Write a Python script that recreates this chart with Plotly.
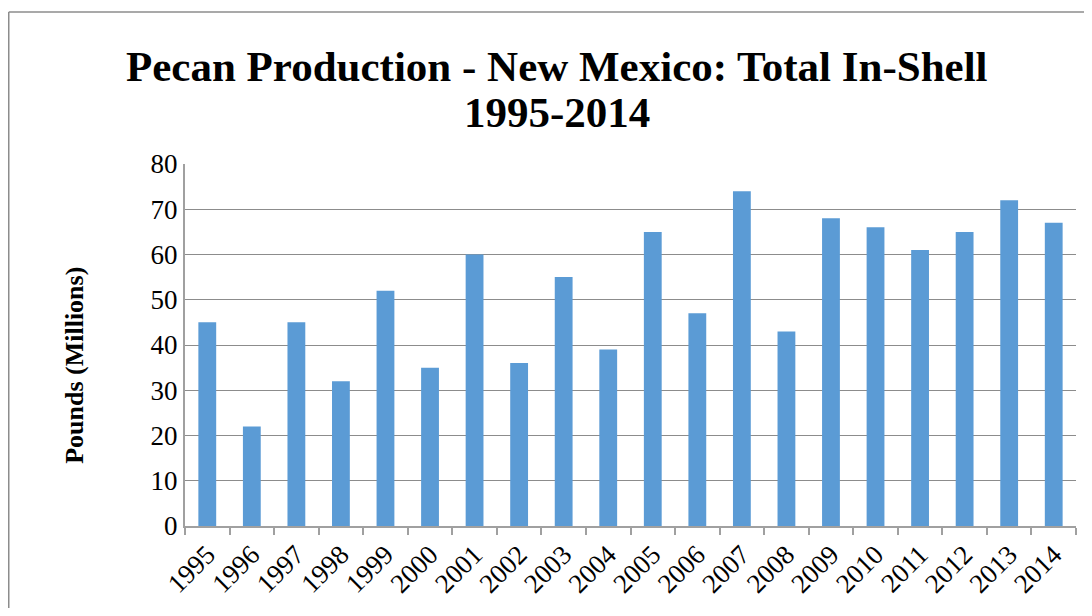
import plotly.graph_objects as go

years = [str(y) for y in range(1995, 2015)]
production = [45, 22, 45, 32, 52, 35, 60, 36, 55, 39, 65, 47, 74, 43, 68, 66, 61, 65, 72, 67]
y_ticks = [0, 10, 20, 30, 40, 50, 60, 70, 80]
title_lines = ["Pecan Production - New Mexico: Total In-Shell", "1995-2014"]
y_title = "Pounds (Millions)"

serif = "Liberation Serif, Times New Roman, serif"

fig = go.Figure(go.Bar(x=years, y=production, marker=dict(color="#5B9BD5", line=dict(width=0))))

fig.update_layout(
    width=1076, height=600,
    margin=dict(l=177, r=8, t=156, b=82),
    paper_bgcolor="white", plot_bgcolor="white",
    bargap=0.6,
    showlegend=False,
    font=dict(family=serif, color="black"),
)
fig.update_xaxes(type="category", tickangle=-45, tickfont=dict(size=27, family=serif),
                 showline=True, linecolor="#a0a0a0", linewidth=2, automargin=False,
                 ticks="outside", tickson="boundaries", ticklen=7, tickcolor="#a0a0a0", tickwidth=2,
                 showgrid=False)
fig.update_yaxes(range=[0, 80], tickvals=y_ticks, tickfont=dict(size=27, family=serif),
                 showline=True, linecolor="#a0a0a0", linewidth=2, automargin=False,
                 gridcolor="#8c8c8c", gridwidth=1, zeroline=False, ticks="")

for txt, yy in zip(title_lines, [1.2707, 1.1436]):
    fig.add_annotation(text="<b>" + txt + "</b>", xref="paper", yref="paper", x=0.418, y=yy,
                       xanchor="center", yanchor="middle", showarrow=False,
                       font=dict(size=43, family=serif, color="black"))

fig.add_annotation(text="<b>" + y_title + "</b>", textangle=-90, xref="paper", yref="paper",
                   x=-0.1235, y=0.445, xanchor="center", yanchor="middle", showarrow=False,
                   font=dict(size=26, family=serif, color="black"))

# outer chart border (top and left edges visible in frame)
fig.add_shape(type="line", xref="paper", yref="paper", x0=-0.1978, x1=1.2, y0=1.42, y1=1.42,
              line=dict(color="#8c8c8c", width=1.5), layer="below")
fig.add_shape(type="line", xref="paper", yref="paper", x0=-0.1978, x1=-0.1978, y0=-0.5, y1=1.42,
              line=dict(color="#8c8c8c", width=1.5), layer="below")

fig.write_html("out.html")
